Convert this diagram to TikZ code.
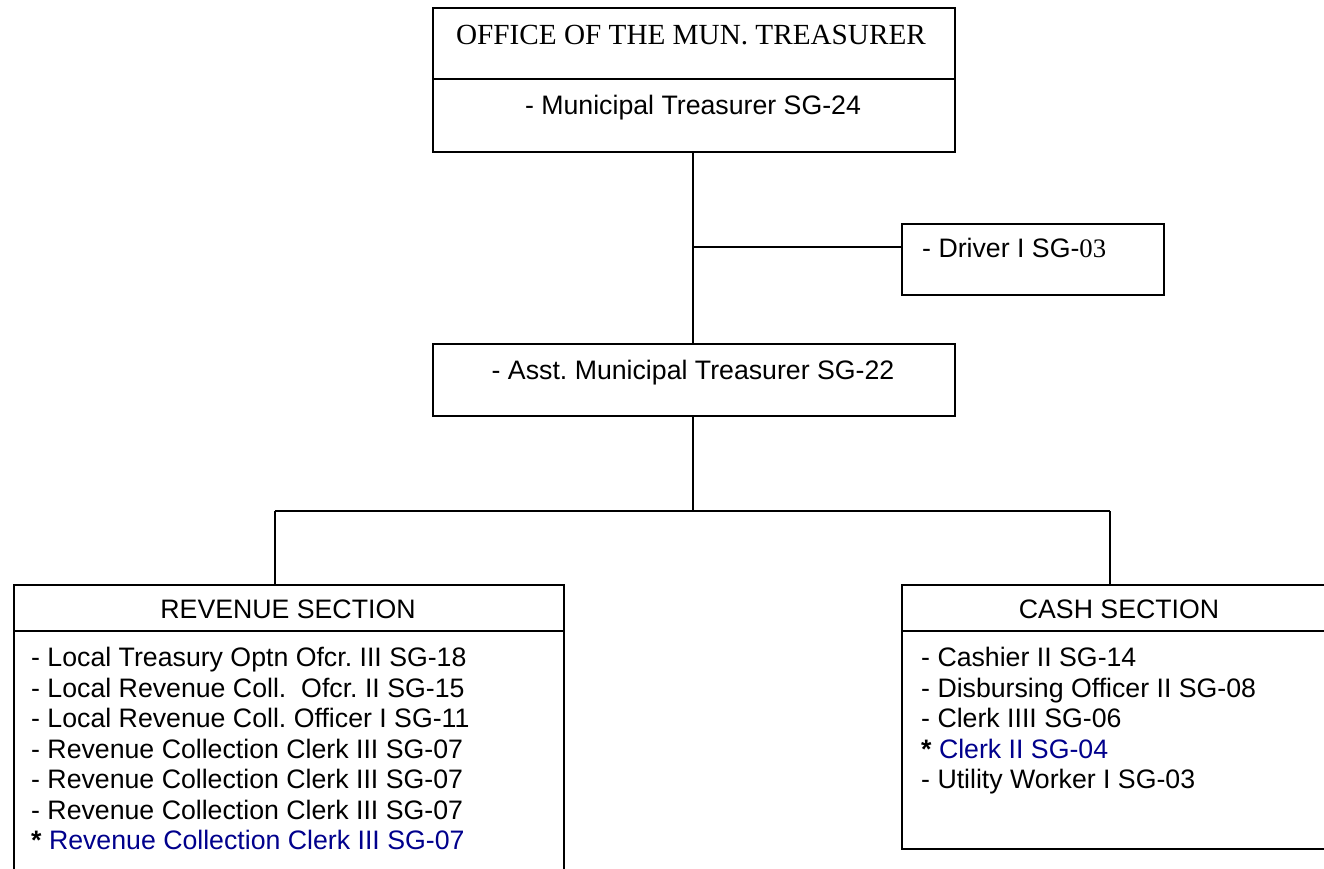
\documentclass[tikz,border=0pt]{standalone}
\usepackage{fontspec}
\setmainfont{Liberation Serif}
\newfontfamily\arialf{Liberation Sans}
\definecolor{navyblue}{RGB}{0,0,140}
\frenchspacing
\tikzset{
  x=1pt,y=-1pt,
  box/.style={draw=black,line width=1.6pt,fill=none,inner sep=0pt,anchor=north west},
  link/.style={draw=black,line width=1.4pt},
  serift/.style={font=\fontsize{29.2}{34}\selectfont,inner sep=0pt,anchor=base},
  sanst/.style={font=\arialf\fontsize{26.7}{30.5}\selectfont,inner sep=0pt},
  item/.style={sanst,anchor=base west},
}
\begin{document}
\begin{tikzpicture}
\useasboundingbox (0,0) rectangle (1324,869);
\clip (0,0) rectangle (1324,869);
% boxes
\node[box,minimum width=522pt,minimum height=144pt] (top) at (432,7) {};
\node[box,minimum width=262pt,minimum height=71pt] (drv) at (901,223) {};
\node[box,minimum width=522pt,minimum height=72pt] (asst) at (432,343) {};
\node[box,minimum width=550pt,minimum height=330pt] (rev) at (13,584) {};
\node[box,minimum width=450pt,minimum height=264pt] (cash) at (901,584) {};
% dividers
\draw[line width=1.6pt] (top.west |- 0,79) -- (top.east |- 0,79);
\draw[line width=1.6pt] (rev.west |- 0,631) -- (rev.east |- 0,631);
\draw[line width=1.6pt] (cash.west |- 0,631) -- (cash.east |- 0,631);
% connectors
\coordinate (jd) at (693,247);
\coordinate (jb) at (693,511);
\coordinate (jl) at (275,511);
\coordinate (jr) at (1110,511);
\draw[link] (top.south -| jd) -- (asst.north -| jd);
\draw[link] (jd) -- (drv.west |- jd);
\draw[link] (asst.south -| jb) -- (jb);
\draw[link] (jl) -- (jr);
\draw[link] (jl) -- (rev.north -| jl);
\draw[link] (jr) -- (cash.north -| jr);
% texts
\node[serift] (ttl) at (691,45) {OFFICE OF THE MUN. TREASURER};
\node[sanst,anchor=base] (mt) at (693,115) {- Municipal Treasurer SG-24};
\node[item] (drvt) at (922,257) {- Driver I SG-{\rmfamily\fontsize{26.7}{30}\selectfont 03}};
\node[sanst,anchor=base] (at) at (693,379) {- Asst. Municipal Treasurer SG-22};
\node[sanst,anchor=base] (revh) at (288,618) {REVENUE SECTION};
\node[sanst,anchor=base] (cashh) at (1119,618) {CASH SECTION};
% revenue items
\node[item] (r1) at (31,666.5) {- Local Treasury Optn Ofcr. III SG-18};
\node[item] (r2) at (31,697) {- Local Revenue Coll.\ \ Ofcr. II SG-15};
\node[item] (r3) at (31,727.5) {- Local Revenue Coll. Officer I SG-11};
\node[item] (r4) at (31,758) {- Revenue Collection Clerk III SG-07};
\node[item] (r5) at (31,788.5) {- Revenue Collection Clerk III SG-07};
\node[item] (r6) at (31,819) {- Revenue Collection Clerk III SG-07};
\node[item] (r7) at (31,849.5) {\textbf{*} \textcolor{navyblue}{Revenue Collection Clerk III SG-07}};
% cash items
\node[item] (c1) at (921,666.5) {- Cashier II SG-14};
\node[item] (c2) at (921,697) {- Disbursing Officer II SG-08};
\node[item] (c3) at (921,727.5) {- Clerk IIII SG-06};
\node[item] (c4) at (921,758) {\textbf{*} \textcolor{navyblue}{Clerk II SG-04}};
\node[item] (c5) at (921,788.5) {- Utility Worker I SG-03};
\end{tikzpicture}
\end{document}
